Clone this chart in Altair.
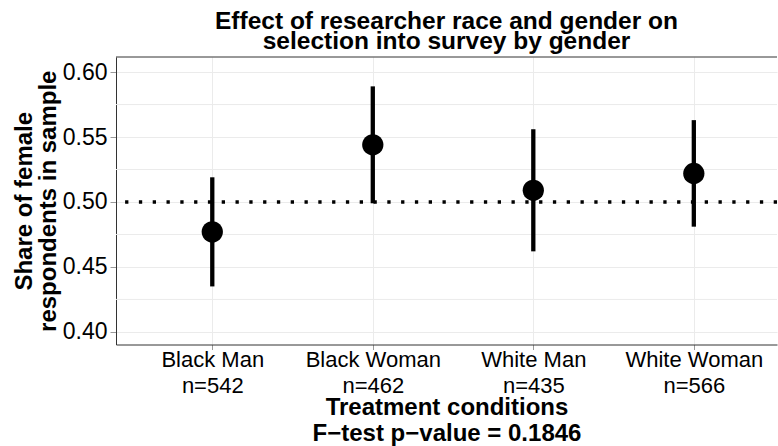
import altair as alt
import pandas as pd

# Treatment conditions and their sample sizes
conditions = ["Black Man", "Black Woman", "White Man", "White Woman"]
sample_sizes = [542, 462, 435, 566]

# Estimated share of female respondents with 95% confidence bounds
share_female = [0.477, 0.544, 0.509, 0.522]
ci_low = [0.435, 0.499, 0.462, 0.481]
ci_high = [0.519, 0.589, 0.556, 0.563]

# Axis ticks and gridlines
y_major = [0.40, 0.45, 0.50, 0.55, 0.60]
y_minor = [0.425, 0.475, 0.525, 0.575]
reference_share = [0.50]
y_domain = [0.3903, 0.6116]

title_lines = ["Effect of researcher race and gender on", "selection into survey by gender"]
x_title_lines = ["Treatment conditions", "F\u2212test p\u2212value = 0.1846"]
y_title_lines = ["Share of female", "respondents in sample"]

FONT = "Liberation Sans"
PLOT_W = 661
PLOT_H = 287.5

df = pd.DataFrame({
    "condition": conditions,
    "n": sample_sizes,
    "share": share_female,
    "lo": ci_low,
    "hi": ci_high,
})
minor_df = pd.DataFrame({"value": y_minor})
ref_df = pd.DataFrame({"value": reference_share})

# Two-line tick labels: condition name, then its sample size
cond_list = "[" + ",".join(f"'{c}'" for c in conditions) + "]"
n_list = "[" + ",".join(str(n) for n in sample_sizes) + "]"
label_expr = f"[datum.label, 'n=' + {n_list}[indexof({cond_list}, datum.label)]]"

y_scale = alt.Scale(domain=y_domain, nice=False, zero=False)
x_scale = alt.Scale(type="point", padding=0.559, align=0.5365)

y_axis = alt.Axis(
    values=y_major, format=".2f", grid=True, gridColor="#ebebeb", gridWidth=1,
    domainColor="#333333", domainWidth=1, tickColor="#9a9a9a", tickSize=6,
    labelPadding=3, labelFontSize=23, labelColor="black", labelFont=FONT,
    title=y_title_lines, titleFont=FONT, titleFontSize=24, titleFontWeight="bold",
    titleColor="black", titleLineHeight=24, titleAngle=270, titleAlign="center",
    titleBaseline="alphabetic", titleX=-85, titleY=PLOT_H / 2,
)
x_axis = alt.Axis(
    labelAngle=0, labelExpr=label_expr, labelFontSize=22, labelLineHeight=26,
    labelPadding=0, labelColor="black", labelFont=FONT, grid=True,
    gridColor="#ebebeb", gridWidth=1, domainColor="#333333", domainWidth=1,
    tickColor="#9a9a9a", tickSize=5,
    title=x_title_lines, titleFont=FONT, titleFontSize=24, titleFontWeight="bold",
    titleColor="black", titleLineHeight=26, titleBaseline="alphabetic",
    titleY=69.5,
)

x_enc = alt.X("condition:N", sort=conditions, scale=x_scale, axis=x_axis)

minor_grid = alt.Chart(minor_df).mark_rule(color="#ebebeb", strokeWidth=1).encode(
    y=alt.Y("value:Q", scale=y_scale, axis=y_axis)
)

ref_line = alt.Chart(ref_df).mark_rule(
    color="black", strokeWidth=3.3, strokeDash=[3.3, 10.5]
).encode(y=alt.Y("value:Q", scale=y_scale, axis=y_axis))

ci_bars = alt.Chart(df).mark_rule(color="black", strokeWidth=4.3).encode(
    x=x_enc,
    y=alt.Y("lo:Q", scale=y_scale, axis=y_axis),
    y2="hi:Q",
)

points = alt.Chart(df).mark_circle(color="black", opacity=1, size=452).encode(
    x=x_enc,
    y=alt.Y("share:Q", scale=y_scale, axis=y_axis),
)

top_border = alt.Chart(ref_df).mark_rule(color="#333333", strokeWidth=1).encode(
    x=alt.value(0), x2=alt.value(PLOT_W), y=alt.value(0)
)

chart = alt.layer(minor_grid, ref_line, ci_bars, points, top_border).properties(
    width=PLOT_W,
    height=PLOT_H,
    title=alt.TitleParams(
        text=title_lines, font=FONT, fontSize=24.5, fontWeight="bold", color="black",
        lineHeight=20.5, anchor="middle", frame="group", offset=2,
    ),
    autosize=alt.AutoSizeParams(type="none"),
    padding={"left": 116, "top": 57, "right": 1, "bottom": 101.5},
).configure(font=FONT).configure_view(stroke=None)

chart.save("out.html", embed_options={"renderer": "svg", "actions": False})
